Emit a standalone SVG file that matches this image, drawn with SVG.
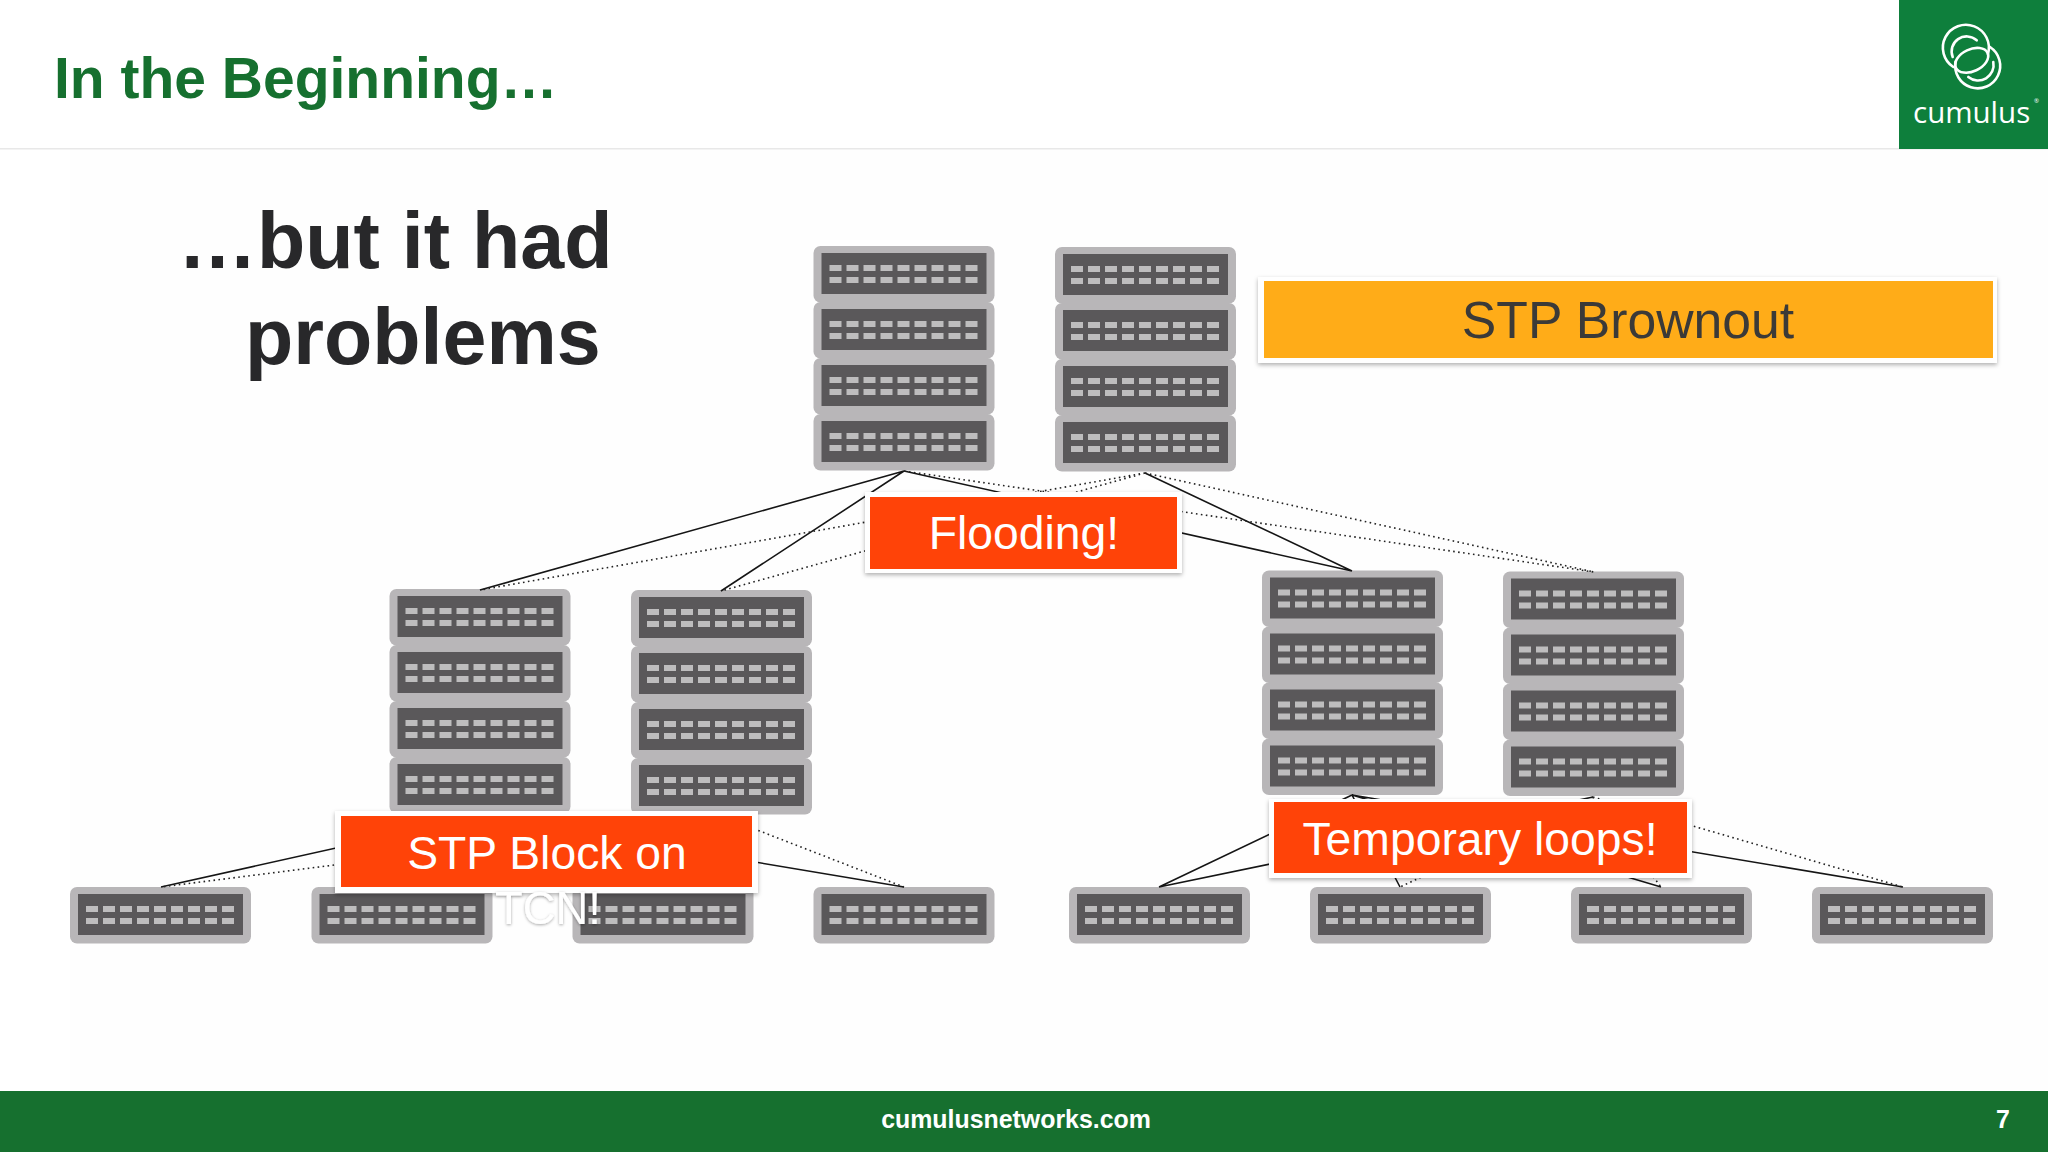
<svg xmlns="http://www.w3.org/2000/svg" xmlns:xlink="http://www.w3.org/1999/xlink" width="2048" height="1152" viewBox="0 0 2048 1152">
<style>
.t{font-family:"Liberation Sans",Arial,sans-serif}
.b{font-weight:700}
.s{stroke:#151515;stroke-width:1.6;fill:none}
.d{stroke:#222;stroke-width:1.6;stroke-dasharray:1.6 3.4;fill:none}
.w{fill:#fff}
.o{fill:#ff4308}
.l{font-size:46.3px;fill:#fff;text-anchor:middle}
.r{fill:none;stroke:#fff;stroke-width:2.6;stroke-linecap:round}
</style>
<defs>
<g id="unit">
<rect width="181" height="56.5" rx="7" fill="#b8b6b8"/>
<rect x="8" y="7" width="165" height="41" fill="#5a585a"/>
<g fill="#bebdbe">
<path d="M16 19h12v6H16zM33 19h12v6H33zM50 19h12v6H50zM67 19h12v6H67zM84 19h12v6H84zM101 19h12v6h-12zM118 19h12v6h-12zM135 19h12v6h-12zM152 19h12v6h-12z"/>
<path d="M16 31h12v6H16zM33 31h12v6H33zM50 31h12v6H50zM67 31h12v6H67zM84 31h12v6H84zM101 31h12v6h-12zM118 31h12v6h-12zM135 31h12v6h-12zM152 31h12v6h-12z"/>
</g>
</g>
<g id="stack">
<use xlink:href="#unit" href="#unit" y="168"/>
<use xlink:href="#unit" href="#unit" y="112"/>
<use xlink:href="#unit" href="#unit" y="56"/>
<use xlink:href="#unit" href="#unit"/>
</g>
<filter id="sh" x="-5%" y="-10%" width="110%" height="125%"><feDropShadow dx="0" dy="2" stdDeviation="2" flood-color="#000" flood-opacity=".3"/></filter>
<filter id="ts" x="-10%" y="-20%" width="120%" height="140%"><feDropShadow dx="0" dy="1" stdDeviation="1.5" flood-color="#000" flood-opacity=".35"/></filter>
</defs>
<rect width="2048" height="1152" fill="#fff"/>
<rect x="70" y="150" width="1978" height="940" fill="#fefefe"/>
<g id="header">
<rect y="148" width="2048" height="1.5" fill="#e8e8e8"/>
<text class="t b" x="54" y="98" font-size="57" fill="#16702f">In the Beginning…</text>
</g>
<g id="logo">
<rect x="1899" width="149" height="149" fill="#0e7f3c"/>
<path class="r" d="M1953.3 67A23 23 0 1 1 1988 54"/>
<path class="r" d="M1952.7 57A15 15 0 0 1 1976.7 40.3"/>
<path class="r" d="M1990 47A22.5 22.5 0 1 1 1955.5 62"/>
<path class="r" d="M1993.3 62A15.5 15.5 0 0 1 1968.3 77"/>
<ellipse class="r" cx="1971.7" cy="60.3" rx="17.5" ry="11" transform="rotate(-25 1971.7 60.3)"/>
<text x="1913" y="123" font-size="29.5" fill="#fff" style="font-family:'Open Sans',sans-serif;font-weight:400">cumulus</text>
<text x="2034" y="103" font-size="6" fill="#fff" style="font-family:'Open Sans',sans-serif">®</text>
</g>
<g id="heading">
<text class="t b" x="178" y="268" font-size="79" fill="#28282a">…but it had</text>
<text class="t b" x="245" y="363.5" font-size="79" fill="#28282a">problems</text>
</g>
<g id="spine-1"><use xlink:href="#stack" href="#stack" x="813.5" y="246"/></g>
<g id="spine-2"><use xlink:href="#stack" href="#stack" x="1055" y="247"/></g>
<g id="agg-1"><use xlink:href="#stack" href="#stack" x="389.5" y="589"/></g>
<g id="agg-2"><use xlink:href="#stack" href="#stack" x="631" y="590"/></g>
<g id="agg-3"><use xlink:href="#stack" href="#stack" x="1262" y="570.5"/></g>
<g id="agg-4"><use xlink:href="#stack" href="#stack" x="1503" y="571.5"/></g>
<g id="leaf-1"><use xlink:href="#unit" href="#unit" x="70" y="887"/></g>
<g id="leaf-2"><use xlink:href="#unit" href="#unit" x="311.5" y="887"/></g>
<g id="leaf-3"><use xlink:href="#unit" href="#unit" x="572.5" y="887"/></g>
<g id="leaf-4"><use xlink:href="#unit" href="#unit" x="813.5" y="887"/></g>
<g id="leaf-5"><use xlink:href="#unit" href="#unit" x="1069" y="887"/></g>
<g id="leaf-6"><use xlink:href="#unit" href="#unit" x="1310" y="887"/></g>
<g id="leaf-7"><use xlink:href="#unit" href="#unit" x="1571" y="887"/></g>
<g id="leaf-8"><use xlink:href="#unit" href="#unit" x="1812" y="887"/></g>
<g id="connectors">
<path class="s" d="M904 471L480 590M904 471L721 591M904 471L1352 571M1145 473L1352 571"/>
<path class="d" d="M904 471L1594 572M1145 473L1594 572M1145 473L480 590M1145 473L721 591"/>
<path class="s" d="M480 816L161 887M480 816L904 887"/>
<path class="d" d="M721 816L161 887M721 816L904 887"/>
<path class="s" d="M1352 795L1159 887M1593 797L1159 887M1352 795L1400 887M1352 795L1661 887M1352 795L1903 887"/>
<path class="d" d="M1593 797L1400 887M1593 797L1661 887M1593 797L1903 887"/>
</g>
<g id="label-brownout">
<rect x="1258" y="277" width="739" height="86" class="w" filter="url(#sh)"/>
<rect x="1264" y="281" width="729" height="77" fill="#ffac18"/>
<text class="t" x="1628" y="338" font-size="51.7" fill="#3b3a38" text-anchor="middle">STP Brownout</text>
</g>
<g id="label-flooding">
<rect x="865" y="492" width="317" height="81" class="w" filter="url(#sh)"/>
<rect x="870" y="497" width="307" height="72" class="o"/>
<text class="t l" x="1024" y="549">Flooding!</text>
</g>
<g id="label-block">
<rect x="335" y="811" width="423" height="82" class="w" filter="url(#sh)"/>
<rect x="341" y="816" width="411" height="71" class="o"/>
<text class="t l" x="547" y="869">STP Block on</text>
<text class="t l" x="548" y="924" textLength="106" lengthAdjust="spacingAndGlyphs" filter="url(#ts)">TCN!</text>
</g>
<g id="label-loops">
<rect x="1269" y="799" width="423" height="79" class="w" filter="url(#sh)"/>
<rect x="1274" y="802" width="413" height="71" class="o"/>
<text class="t l" x="1480" y="855">Temporary loops!</text>
</g>
<g id="footer">
<rect y="1091" width="2048" height="61" fill="#16702f"/>
<text class="t b" x="1016" y="1128" font-size="24.9" fill="#fff" text-anchor="middle">cumulusnetworks.com</text>
<text class="t b" x="2003" y="1128" font-size="24.9" fill="#fff" text-anchor="middle">7</text>
</g>
</svg>
